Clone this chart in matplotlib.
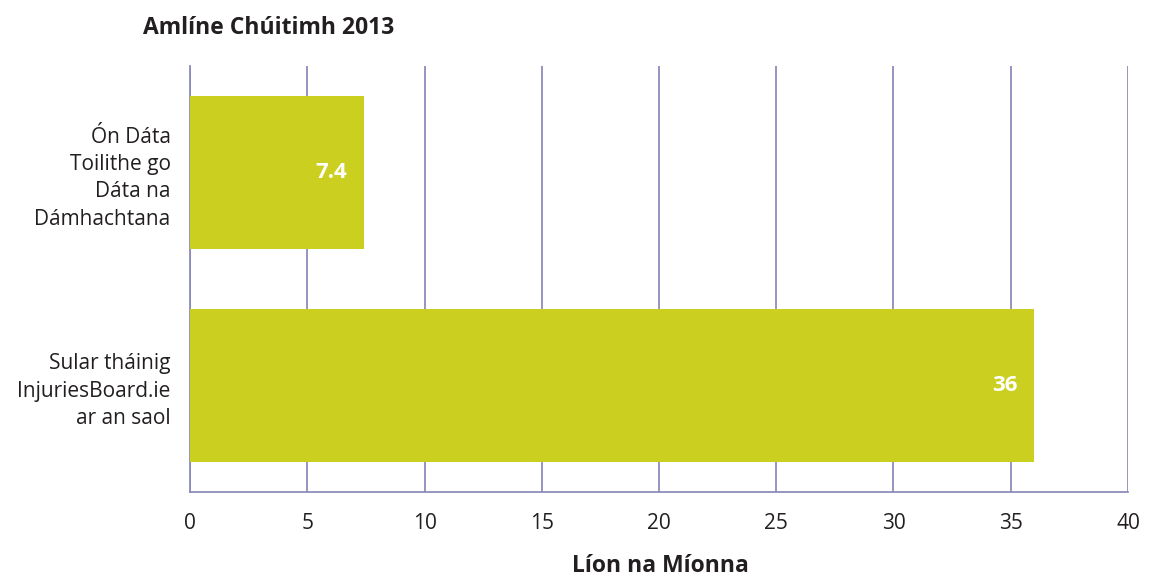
import matplotlib
matplotlib.use("Agg")
import matplotlib.pyplot as plt

# 数据
categories = ["Ón Dáta\nToilithe go\nDáta na\nDámhachtana", "Sular tháinig\nInjuriesBoard.ie\nar an saol"]
values = [7.4, 36]
value_labels = ["7.4", "36"]
x_ticks = [0, 5, 10, 15, 20, 25, 30, 35, 40]

BAR_COLOR = "#cbd020"
GRID_COLOR = "#8c8cbc"
TEXT_COLOR = "#231f20"

plt.rcParams["font.family"] = ["Open Sans", "DejaVu Sans"]

fig = plt.figure(figsize=(11.51, 5.78), dpi=100)
ax = fig.add_axes([0.1651, 0.1488, 0.8149, 0.7370])

y_pos = list(range(len(categories)))
bars = ax.barh(y_pos, values, height=0.72, color=BAR_COLOR, zorder=3)

for y, v, lab in zip(y_pos, values, value_labels):
    ax.annotate(lab, xy=(v, y), xytext=(-12, 0), textcoords="offset points",
                ha="right", va="center", color="white", fontsize=16,
                fontweight="bold", zorder=4)

ax.set_xlim(0, 40)
ax.set_ylim(-0.5, 1.5)
ax.invert_yaxis()
ax.set_xticks(x_ticks)
ax.set_yticks(y_pos)
ax.set_yticklabels(categories, fontsize=15, color=TEXT_COLOR, ha="right",
                   multialignment="right", linespacing=1.4)
ax.tick_params(axis="x", labelsize=15, labelcolor=TEXT_COLOR, length=0, pad=15)
ax.tick_params(axis="y", length=0, pad=14)

ax.grid(True, axis="x", color=GRID_COLOR, linewidth=1.3, zorder=0)
for side in ("top", "right"):
    ax.spines[side].set_visible(False)
for side in ("left", "bottom"):
    ax.spines[side].set_color(GRID_COLOR)
    ax.spines[side].set_linewidth(1.3)

fig.text(143 / 1151, 1 - 28 / 578, "Amlíne Chúitimh 2013", fontsize=16.5,
         fontweight="bold", color=TEXT_COLOR, ha="left", va="center")
fig.text(660 / 1151, 1 - 566 / 578, "Líon na Míonna", fontsize=16.5,
         fontweight="bold", color=TEXT_COLOR, ha="center", va="center")

fig.savefig("out.png", dpi=100)
